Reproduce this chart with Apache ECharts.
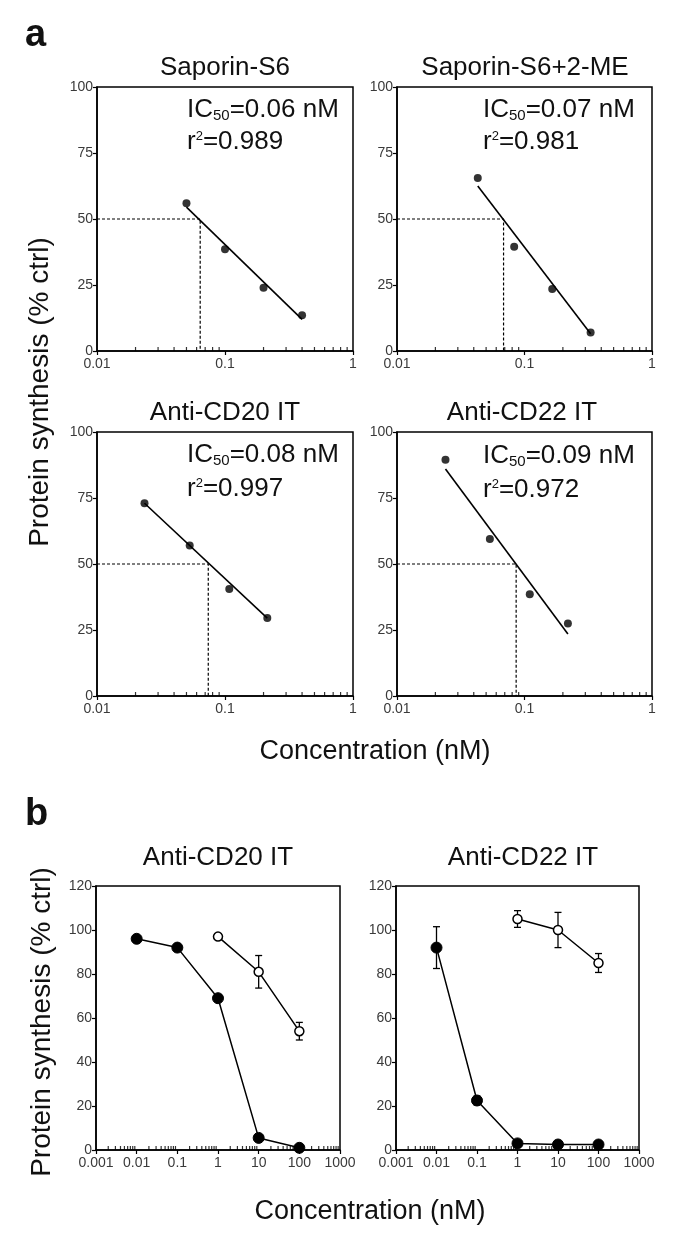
<!DOCTYPE html>
<html>
<head>
<meta charset="utf-8">
<script src="https://cdn.jsdelivr.net/npm/echarts@6/dist/echarts.min.js"></script>
<style>
html,body{margin:0;padding:0;background:#fff;}
#chart{width:676px;height:1238px;}
</style>
</head>
<body>
<div id="chart"></div>
<script>
// ---------- Panel a data ----------
const aTitles = ['Saporin-S6', 'Saporin-S6+2-ME', 'Anti-CD20 IT', 'Anti-CD22 IT'];
const aIC50Labels = ['0.06', '0.07', '0.08', '0.09'];
const aR2Labels = ['0.989', '0.981', '0.997', '0.972'];
const aConcS6 = [0.05, 0.1, 0.2, 0.4];
const aSynthS6 = [56, 38.5, 24, 13.5];
const aConcS6ME = [0.043, 0.083, 0.165, 0.33];
const aSynthS6ME = [65.5, 39.5, 23.5, 7];
const aConcCD20 = [0.0235, 0.053, 0.108, 0.214];
const aSynthCD20 = [73, 57, 40.5, 29.5];
const aConcCD22 = [0.024, 0.0535, 0.11, 0.219];
const aSynthCD22 = [89.5, 59.5, 38.5, 27.5];
// fitted regression lines (endpoints)
const aFitX = [[0.05, 0.4], [0.043, 0.33], [0.0235, 0.214], [0.024, 0.219]];
const aFitY = [[54.5, 12], [62.5, 6.5], [73, 29.5], [86, 23.5]];
// IC50 guide line position (x at 50 %)
const aIC50X = [0.064, 0.0685, 0.074, 0.086];
const aYTicks = [0, 25, 50, 75, 100];
const aXTickLabels = ['0.01', '0.1', '1'];

// ---------- Panel b data ----------
const bTitles = ['Anti-CD20 IT', 'Anti-CD22 IT'];
const bConcFilled = [0.01, 0.1, 1, 10, 100];
const bConcOpen = [1, 10, 100];
const bCD20Filled = [96, 92, 69, 5.5, 1];
const bCD20FilledErr = [1.5, 1.5, 1.5, 1, 0.5];
const bCD20Open = [97, 81, 54];
const bCD20OpenErr = [1, 7.4, 4];
const bCD22Filled = [92, 22.5, 3, 2.5, 2.5];
const bCD22FilledErr = [9.5, 2, 0.5, 0.5, 0.5];
const bCD22Open = [105, 100, 85];
const bCD22OpenErr = [3.8, 8, 4.3];
const bXTickLabels = ['0.001', '0.01', '0.1', '1', '10', '100', '1000'];

// minor tick positions (2..9 within each decade)
function minorTicks(lo, hi) {
  const out = [];
  for (let d = lo; d < hi; d++) {
    for (let k = 2; k <= 9; k++) out.push(+(k * Math.pow(10, d)).toPrecision(2));
  }
  return out;
}
const aMinorTicks = minorTicks(-2, 0);
const bMinorTicks = minorTicks(-3, 3);

const FONT = '"Liberation Sans", Arial, Helvetica, sans-serif';

const grids = [
  {left: 97, top: 87, width: 256, height: 264},
  {left: 397, top: 87, width: 255, height: 264},
  {left: 97, top: 432, width: 256, height: 264},
  {left: 397, top: 432, width: 255, height: 264},
  {left: 96, top: 886, width: 244, height: 264},
  {left: 396, top: 886, width: 243, height: 264}
];

function fmtLog(v) { return String(+v.toPrecision(1)); }

const xAxes = [], yAxes = [];
grids.forEach((g, i) => {
  const isB = i >= 4;
  xAxes.push({
    gridIndex: i, type: 'log', logBase: 10,
    min: isB ? 0.001 : 0.01, max: isB ? 1000 : 1, interval: 1,
    axisLine: {show: true, lineStyle: {color: '#000', width: 1.5}},
    axisTick: {show: true, inside: false, length: 4, lineStyle: {color: '#000', width: 1.2}},
    axisLabel: {color: '#3a3a3a', fontSize: 14, fontFamily: FONT, margin: 6, formatter: fmtLog},
    splitLine: {show: false}, minorTick: {show: false}
  });
  yAxes.push({
    gridIndex: i, type: 'value', min: 0, max: isB ? 120 : 100, interval: isB ? 20 : 25,
    axisLine: {show: true, lineStyle: {color: '#000', width: 1.5}},
    axisTick: {show: true, inside: false, length: 4, lineStyle: {color: '#000', width: 1.2}},
    axisLabel: {color: '#3a3a3a', fontSize: 14, fontFamily: FONT, margin: 4},
    splitLine: {show: false}
  });
});

const series = [];
const aConcs = [aConcS6, aConcS6ME, aConcCD20, aConcCD22];
const aSynths = [aSynthS6, aSynthS6ME, aSynthCD20, aSynthCD22];
const zip = (xs, ys) => xs.map((x, k) => [x, ys[k]]);

for (let i = 0; i < 4; i++) {
  // dashed IC50 guides
  series.push({
    type: 'line', xAxisIndex: i, yAxisIndex: i, symbol: 'none', silent: true,
    data: [[0.01, 50], [aIC50X[i], 50], [aIC50X[i], 0]],
    lineStyle: {color: '#000', width: 1.2, type: [3, 2]}
  });
  // fit line
  series.push({
    type: 'line', xAxisIndex: i, yAxisIndex: i, symbol: 'none', silent: true,
    data: zip(aFitX[i], aFitY[i]),
    lineStyle: {color: '#000', width: 1.6}
  });
  // points
  series.push({
    type: 'scatter', xAxisIndex: i, yAxisIndex: i, symbol: 'circle', symbolSize: 8,
    data: zip(aConcs[i], aSynths[i]), itemStyle: {color: '#000'}, z: 5
  });
  // minor ticks
  series.push({
    type: 'scatter', xAxisIndex: i, yAxisIndex: i, symbol: 'rect', symbolSize: [1.2, 4],
    symbolOffset: [0, -2], clip: false, silent: true,
    data: aMinorTicks.map(v => [v, 0]), itemStyle: {color: '#000'}, z: 6
  });
}

function errRender(params, api) {
  const x = api.value(0), y = api.value(1), e = api.value(2);
  const t = api.coord([x, y + e]);
  const b = api.coord([x, y - e]);
  const w = 3.5;
  const st = {stroke: '#000', lineWidth: 1.3};
  return {type: 'group', children: [
    {type: 'line', shape: {x1: t[0], y1: t[1], x2: b[0], y2: b[1]}, style: st},
    {type: 'line', shape: {x1: t[0] - w, y1: t[1], x2: t[0] + w, y2: t[1]}, style: st},
    {type: 'line', shape: {x1: b[0] - w, y1: b[1], x2: b[0] + w, y2: b[1]}, style: st}
  ]};
}

const bSets = [
  {f: bCD20Filled, fe: bCD20FilledErr, o: bCD20Open, oe: bCD20OpenErr},
  {f: bCD22Filled, fe: bCD22FilledErr, o: bCD22Open, oe: bCD22OpenErr}
];
bSets.forEach((s, j) => {
  const i = 4 + j;
  series.push({
    type: 'custom', xAxisIndex: i, yAxisIndex: i, renderItem: errRender, silent: true, z: 1,
    data: bConcFilled.map((x, k) => [x, s.f[k], s.fe[k]]).concat(bConcOpen.map((x, k) => [x, s.o[k], s.oe[k]]))
  });
  series.push({
    type: 'line', xAxisIndex: i, yAxisIndex: i, symbol: 'circle', symbolSize: 11,
    data: zip(bConcFilled, s.f), lineStyle: {color: '#000', width: 1.5},
    itemStyle: {color: '#000', borderColor: '#000', borderWidth: 1}, z: 3
  });
  series.push({
    type: 'line', xAxisIndex: i, yAxisIndex: i, symbol: 'circle', symbolSize: 9,
    data: zip(bConcOpen, s.o), lineStyle: {color: '#000', width: 1.5},
    itemStyle: {color: '#fff', borderColor: '#000', borderWidth: 1.5}, z: 3
  });
  series.push({
    type: 'scatter', xAxisIndex: i, yAxisIndex: i, symbol: 'rect', symbolSize: [1.2, 4],
    symbolOffset: [0, -2], clip: false, silent: true,
    data: bMinorTicks.map(v => [v, 0]), itemStyle: {color: '#000'}, z: 6
  });
});

// ---------- texts ----------
const graphics = [];
function txt(text, x, y, size, opts) {
  opts = opts || {};
  graphics.push({
    type: 'text', x: x, y: y, rotation: opts.rot || 0, z: 10,
    style: {
      text: text, fill: '#111', fontSize: size, fontFamily: FONT,
      fontWeight: opts.bold ? 'bold' : 'normal',
      textAlign: opts.align || 'center', textVerticalAlign: 'middle',
      rich: opts.rich
    }
  });
}
const subRich = {
  sub: {fontSize: 15, fontFamily: FONT, fill: '#111', padding: [12, 0, 0, 0]},
  sup: {fontSize: 13, fontFamily: FONT, fill: '#111', padding: [0, 0, 12, 0]}
};
txt('a', 25, 36, 38, {bold: true, align: 'left'});
txt('b', 25, 815, 38, {bold: true, align: 'left'});
const aTitlePos = [[225, 68], [525, 68], [225, 413], [522, 413]];
const aIcPos = [[187, 110, 142], [483, 110, 142], [187, 455, 489], [483, 456, 490]];
for (let i = 0; i < 4; i++) {
  txt(aTitles[i], aTitlePos[i][0], aTitlePos[i][1], 26);
  txt('IC{sub|50}=' + aIC50Labels[i] + ' nM', aIcPos[i][0], aIcPos[i][1], 26, {align: 'left', rich: subRich});
  txt('r{sup|2}=' + aR2Labels[i], aIcPos[i][0], aIcPos[i][2], 26, {align: 'left', rich: subRich});
}
txt(bTitles[0], 218, 858, 26);
txt(bTitles[1], 523, 858, 26);
txt('Concentration (nM)', 375, 752, 27);
txt('Concentration (nM)', 370, 1212, 27);
txt('Protein synthesis (% ctrl)', 40, 392, 28, {rot: Math.PI / 2});
txt('Protein synthesis (% ctrl)', 42, 1022, 28, {rot: Math.PI / 2});

const chart = echarts.init(document.getElementById('chart'), null, {renderer: 'canvas'});
chart.setOption({
  animation: false,
  backgroundColor: '#fff',
  grid: grids.map(g => Object.assign({show: true, borderColor: '#000', borderWidth: 1.5, backgroundColor: 'transparent', containLabel: false}, g)),
  xAxis: xAxes,
  yAxis: yAxes,
  series: series,
  graphic: graphics
});
</script>
</body>
</html>
